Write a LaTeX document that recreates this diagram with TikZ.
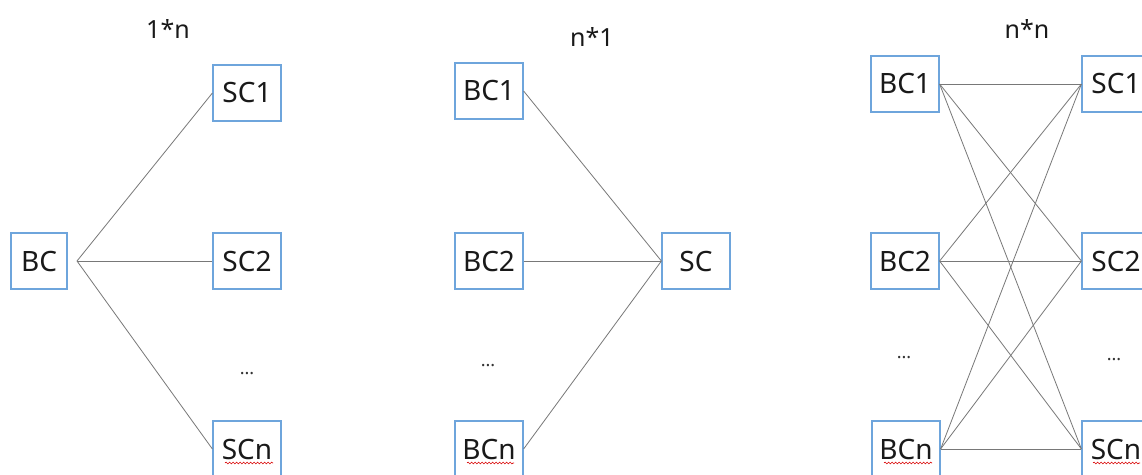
\documentclass[tikz,border=0pt]{standalone}
\usepackage{fontspec}
\setmainfont{Noto Sans}
\usetikzlibrary{decorations.pathmorphing}
\definecolor{boxblue}{RGB}{110,165,220}
\definecolor{linegray}{RGB}{120,120,120}
\tikzset{
  cbox/.style={draw=boxblue, line width=1.2pt, minimum width=68pt, minimum height=56pt, inner sep=0pt, font=\fontsize{28}{32}\selectfont, text=black!90},
  ttl/.style={font=\fontsize{25}{29}\selectfont, text=black!90},
  dots/.style={font=\fontsize{18}{20}\selectfont, text=black!80},
  conn/.style={draw=linegray, line width=0.8pt},
  squig/.style={draw=red!85!black, line width=0.6pt, decorate, decoration={snake, amplitude=0.9pt, segment length=3.5pt}}
}
\begin{document}
\begin{tikzpicture}[x=1pt,y=-1pt]
\clip (0,0) rectangle (1142,474);
\fill[white] (0,0) rectangle (1142,474);
% panel 1
\node[ttl] (t1) at (168,29) {1*n};
\node[cbox, minimum width=56pt] (bc) at (39,261) {BC};
\node[cbox] (sc1) at (247,93) {SC1};
\node[cbox] (sc2) at (247,261) {SC2};
\node[dots] (d1) at (247,374) {...};
\node[cbox] (scn) at (247,449) {SCn};
\coordinate (hub) at (77,261);
\draw[conn] (hub) -- (sc1.west);
\draw[conn] (hub) -- (sc2.west);
\draw[conn] (hub) -- (scn.west);
\draw[squig] (225,463) -- (273,463);
% panel 2
\node[ttl] (t2) at (592,37) {n*1};
\node[cbox] (pbc1) at (489,91) {BC1};
\node[cbox] (pbc2) at (489,261) {BC2};
\node[dots] (d2) at (488,366) {...};
\node[cbox] (pbcn) at (489,449) {BCn};
\node[cbox] (psc) at (696,261) {SC};
\draw[conn] (pbc1.east) -- (psc.west);
\draw[conn] (pbc2.east) -- (psc.west);
\draw[conn] (pbcn.east) -- (psc.west);
\draw[squig] (467,463) -- (514,463);
% panel 3
\node[ttl] (t3) at (1027,29) {n*n};
\node[cbox] (qbc1) at (905,84) {BC1};
\node[cbox] (qbc2) at (905,261) {BC2};
\node[dots] (d3) at (904,358) {...};
\node[cbox] (qbcn) at (906,449) {BCn};
\node[cbox] (qsc1) at (1116,84) {SC1};
\node[cbox] (qsc2) at (1116,261) {SC2};
\node[dots] (d4) at (1114,360) {...};
\node[cbox] (qscn) at (1116,449) {SCn};
\foreach \b in {qbc1,qbc2,qbcn}{
  \foreach \s in {qsc1,qsc2,qscn}{
    \draw[conn] (\b.east) -- (\s.west);
  }
}
\draw[squig] (884,463) -- (932,463);
\draw[squig] (1093,463) -- (1140,463);
\end{tikzpicture}
\end{document}
